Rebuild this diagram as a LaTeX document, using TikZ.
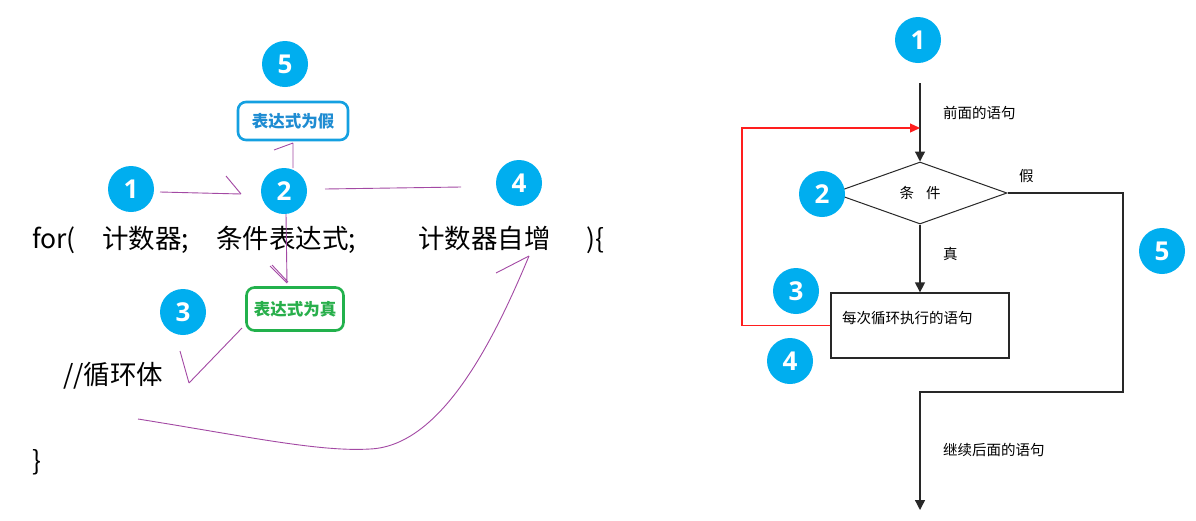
\documentclass[tikz,border=0pt]{standalone}
\usepackage{fontspec}
\setmainfont{Noto Sans CJK SC}
\newfontfamily\numfont{Open Sans}
\usetikzlibrary{shapes.geometric,arrows.meta}
\definecolor{cyanc}{RGB}{0,174,239}
\definecolor{plc}{RGB}{163,73,164}
\definecolor{bluebox}{RGB}{20,160,225}
\definecolor{bluetext}{RGB}{30,140,210}
\definecolor{greenbox}{RGB}{34,177,76}
\definecolor{greentext}{RGB}{40,175,75}
\definecolor{lnc}{RGB}{40,40,40}
\definecolor{redc}{RGB}{255,30,30}
\begin{document}
\begin{tikzpicture}[x=1pt,y=-1pt,
 num/.style={circle,fill=cyanc,minimum size=46pt,inner sep=0pt,text=white,font=\numfont\bfseries\fontsize{26}{26}\selectfont},
 pl/.style={draw=plc,line width=0.9pt},
 code/.style={anchor=base west,inner sep=0pt,font=\fontsize{26.5}{30}\selectfont},
 tagbox/.style={rounded corners=8pt,line width=2.6pt,inner sep=0pt,font=\bfseries\fontsize{16.5}{18}\selectfont},
 fl/.style={draw=lnc,line width=1.3pt},
 tip/.style={-{Triangle[length=10pt,width=10pt]}},
 lbl/.style={anchor=west,inner sep=0pt,font=\fontsize{14.5}{16}\selectfont}]
\useasboundingbox[fill=white] (0,0) rectangle (1196,520);

% ---------- left: annotated for statement ----------
\node[num] (c5L) at (285,64) {5};
\node[tagbox,draw=bluebox,text=bluetext,minimum width=110pt,minimum height=38pt] (bF) at (293,121) {表达式为假};
\node[num] (c1L) at (131,189) {1};
\node[num] (c2L) at (284,191) {2};
\node[num] (c4L) at (519,183) {4};
\node[num] (c3L) at (183,312) {3};
\node[tagbox,draw=greenbox,text=greentext,minimum width=97pt,minimum height=43pt] (bT) at (295,309) {表达式为真};

\node[code] (tfor) at (32,248) {for(};
\node[code] (tinit) at (102,248) {计数器;};
\node[code] (tcond) at (216,248) {条件表达式;};
\node[code] (tinc) at (418,248) {计数器自增};
\node[code] (tclose) at (586,248) {)\{};
\node[code] (tbody) at (63,384) {//循环体};
\node[code] (tend) at (32,470) {\}};

% hand-drawn purple arrows
\coordinate (a1s) at (160,192);
\coordinate (a1t) at (241,194);
\draw[pl] (a1s) -- (a1t) (a1t) -- ++(-15,-18);

\coordinate (a2s) at (293,168);
\coordinate (a2t) at (293,143);
\draw[pl] (a2s) -- (a2t) (a2t) -- ++(-19,7);

\coordinate (a3s) at (325,189);
\coordinate (a3t) at (461,187);
\draw[pl] (a3s) -- (a3t);

\coordinate (a4s) at (286,214);
\coordinate (a4t) at (287,283);
\draw[pl] (a4s) -- (a4t) (a4t) -- ++(-17,-17) (a4t) ++(1,-1) -- ++(-16,-17);

\coordinate (a5s) at (242,328);
\coordinate (a5t) at (189,383);
\draw[pl] (a5s) -- (a5t) (a5t) -- ++(-9,-32);

\coordinate (cvS) at (138,419);
\coordinate (cvT) at (529,256);
\draw[pl] (cvS) .. controls (250,437) and (320,452) .. (370,449) .. controls (440,446) and (492,345) .. (cvT);
\draw[pl] (cvT) -- ++(-33,17);

% ---------- right: flowchart ----------
\node[num] (c1R) at (918,40) {1};
\coordinate (inS) at (920,83);
\node[diamond,draw=lnc,line width=1pt,minimum width=174pt,minimum height=62pt,inner sep=0pt,font=\fontsize{14.5}{16}\selectfont] (dm) at (920,193) {条\hspace{12pt}件};
\node[draw=lnc,line width=1.3pt,minimum width=178pt,minimum height=65pt,inner sep=0pt] (bx) at (920,325.5) {};
\node[lbl] (bxt) at (842,318) {每次循环执行的语句};

\node[lbl] (lpre) at (943,113) {前面的语句};
\node[lbl] (lF) at (1019,176) {假};
\node[lbl] (lT) at (943,254) {真};
\node[lbl] (lpost) at (943,450) {继续后面的语句};

\coordinate (fR) at (1123,392);
\coordinate (outE) at (920,510);
\coordinate (rL) at (742,128);

\draw[fl,tip] (inS) -- (dm.north);
\draw[fl,tip] (dm.south) -- (bx.north);
\draw[fl,tip] (dm.east) -| (fR) -| (outE);
\draw[draw=redc,line width=1.2pt,-{Triangle[length=10pt,width=9pt]}] (bx.west) -| (rL) -- (inS |- rL);

\node[num] (c2R) at (822,194) {2};
\node[num] (c3R) at (796,291) {3};
\node[num] (c4R) at (790,361) {4};
\node[num] (c5R) at (1162,251) {5};
\end{tikzpicture}
\end{document}
